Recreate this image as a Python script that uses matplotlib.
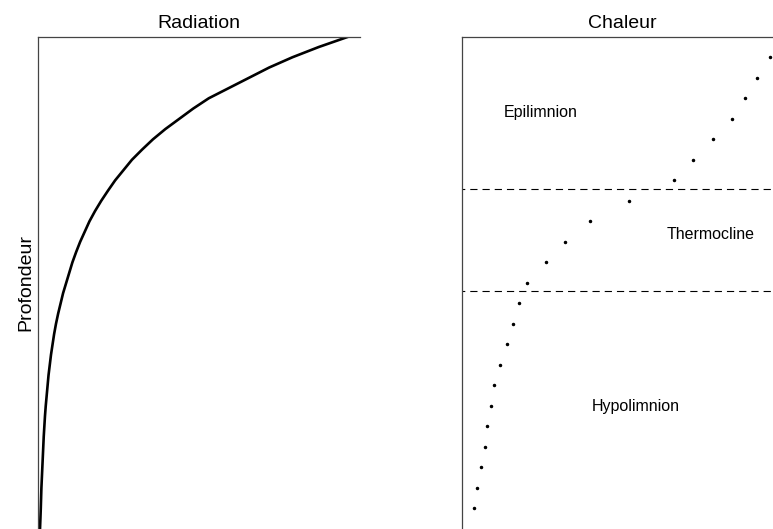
import matplotlib.pyplot as plt

plt.rcParams['font.family'] = ['Liberation Sans', 'DejaVu Sans']

# depth levels (0 = surface), read every half unit
depth_rad = [0, 0.5, 1, 1.5, 2, 2.5, 3, 3.5, 4, 4.5, 5, 5.5, 6, 6.5, 7, 7.5, 8, 8.5,
             9, 9.5, 10, 10.5, 11, 11.5, 12, 12.5, 13, 13.5, 14, 14.5, 15, 15.5,
             16, 16.5, 17, 17.5, 18, 18.5, 19, 19.5, 20, 20.5, 21, 21.5, 22, 22.5,
             23, 23.5, 24]
radiation = [100, 90.5, 82, 74.5, 68, 61.5, 55, 50, 45.5, 41, 37, 33.5, 30.2, 27.5,
             24.8, 22.5, 20.3, 18.3, 16.5, 15, 13.5, 12.2, 11, 10, 9, 8, 7.2, 6.4,
             5.7, 5.1, 4.6, 4.1, 3.7, 3.3, 3.0, 2.7, 2.4, 2.15, 1.95, 1.75, 1.6, 1.45,
             1.3, 1.15, 1.0, 0.9, 0.8, 0.68, 0.55]

depth_temp = [1, 2, 3, 4, 5, 6, 7, 8, 9, 10, 11, 12, 13, 14, 15, 16, 17, 18, 19, 20, 21, 22, 23]
chaleur = [25.7, 24.6, 23.6, 22.5, 20.9, 19.3, 17.7, 13.9, 10.7, 8.6, 7.0, 5.4,
           4.8, 4.3, 3.75, 3.2, 2.7, 2.4, 2.1, 1.9, 1.6, 1.3, 1.05]

thermocline_limits = [7.4, 12.4]
zone_labels = ['Epilimnion', 'Thermocline', 'Hypolimnion']
zone_x = [6.6, 20.7, 14.5]
zone_y = [3.7, 9.65, 18.05]

fig = plt.figure(figsize=(7.73, 5.29), dpi=100)
spine_col = '#444444'

# left panel: radiation
ax1 = fig.add_axes([38.3 / 773, 0, 321.7 / 773, 1 - 36.75 / 529])
ax1.plot(radiation, depth_rad, color='black', lw=1.9)
ax1.set_xlim(0, 103.8)
ax1.set_ylim(24, 0)
ax1.set_title('Radiation', fontsize=14, pad=6)
ax1.set_ylabel('Profondeur', fontsize=14, labelpad=3)

# right panel: heat
ax2 = fig.add_axes([461.7 / 773, 0, 321.7 / 773, 1 - 36.75 / 529])
ax2.plot(chaleur, depth_temp, 'o', color='black', markersize=1.5)
for d in thermocline_limits:
    ax2.axhline(d, color='black', lw=0.8, ls=(4, (6.5, 4.5)))
for lab, x, y in zip(zone_labels, zone_x, zone_y):
    ax2.text(x, y, lab, ha='center', va='center', fontsize=11.5)
ax2.set_xlim(0, 26.8)
ax2.set_ylim(24, 0)
ax2.set_title('Chaleur', fontsize=14, pad=6)

for ax in (ax1, ax2):
    ax.set_xticks([])
    ax.set_yticks([])
    ax.spines['right'].set_visible(False)
    ax.spines['bottom'].set_visible(False)
    for s in ('left', 'top'):
        ax.spines[s].set_color(spine_col)
        ax.spines[s].set_linewidth(0.9)

fig.savefig('out.png', dpi=100)
